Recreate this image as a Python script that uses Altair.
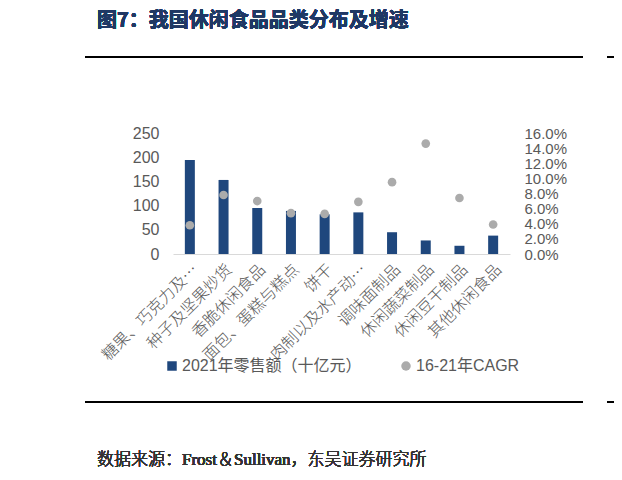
import altair as alt
import pandas as pd

# categories and values
categories = ["糖果、巧克力及…", "种子及坚果炒货", "香脆休闲食品", "面包、蛋糕与糕点", "饼干",
              "肉制以及水产动…", "调味面制品", "休闲蔬菜制品", "休闲豆干制品", "其他休闲食品"]
sales_2021 = [194, 153, 95, 89, 82, 86, 45, 28, 17, 38]
cagr_16_21 = [0.038, 0.078, 0.070, 0.054, 0.053, 0.069, 0.095, 0.146, 0.074, 0.039]

bar_name = "2021年零售额（十亿元）"
dot_name = "16-21年CAGR"

df = pd.DataFrame({"品类": categories, "零售额": sales_2021, "CAGR": cagr_16_21})

label_font = "Liberation Sans, Noto Sans CJK SC"
gray_txt = "#595959"


def legend_at(lx, symbol):
    return alt.Legend(
        title=None, orient="none", legendX=lx, legendY=225, direction="horizontal",
        labelFont=label_font, labelFontSize=16, labelColor=gray_txt,
        symbolType=symbol, symbolSize=90, symbolStrokeWidth=0, symbolOpacity=1,
        labelOffset=2, labelLimit=300,
    )


x = alt.X(
    "品类:N", sort=categories, title=None,
    scale=alt.Scale(type="band", paddingInner=0, paddingOuter=0),
    axis=alt.Axis(labelAngle=-45, labelFont="Noto Sans CJK SC", labelFontSize=16,
                  labelFontWeight=300, labelColor=gray_txt, ticks=False,
                  domainColor="#D9D9D9", labelPadding=7, labelLimit=250),
)

bars = (
    alt.Chart(df)
    .transform_calculate(series=f"'{bar_name}'")
    .mark_bar(size=10)
    .encode(
        x=x,
        y=alt.Y("零售额:Q", title=None, scale=alt.Scale(domain=[0, 250], nice=False),
                axis=alt.Axis(values=[0, 50, 100, 150, 200, 250], grid=False, domain=False,
                              ticks=False, labelFont=label_font, labelFontSize=16,
                              labelColor=gray_txt, labelPadding=14, labelOverlap=False)),
        color=alt.Color("series:N", scale=alt.Scale(domain=[bar_name], range=["#1F477D"]),
                        legend=legend_at(-9, "square")),
    )
)

dots = (
    alt.Chart(df)
    .transform_calculate(series=f"'{dot_name}'")
    .mark_circle(size=75, opacity=1)
    .encode(
        x=x,
        y=alt.Y("CAGR:Q", title=None, scale=alt.Scale(domain=[0, 0.16], nice=False),
                axis=alt.Axis(orient="right", values=[i * 0.02 for i in range(9)], format=".1%",
                              grid=False, domain=False, ticks=False, labelFont=label_font,
                              labelFontSize=15, labelColor=gray_txt, labelPadding=14,
                              labelOverlap=False, labelBound=False)),
        fill=alt.Fill("series:N", scale=alt.Scale(domain=[dot_name], range=["#ABABAB"]),
                      legend=legend_at(225, "circle")),
    )
)

# page decoration: title, rules and source note
title = alt.Chart(df).mark_text(
    text="图7：我国休闲食品品类分布及增速", align="left", baseline="middle",
    font="Noto Sans CJK SC", fontWeight="bold", fontSize=20, color="#1F3864",
).encode(x=alt.value(-76), y=alt.value(-112))

top_rule = alt.Chart(df).mark_rule(color="#000000", strokeWidth=2).encode(
    x=alt.value(-88), x2=alt.value(410), y=alt.value(-76))
top_rule2 = alt.Chart(df).mark_rule(color="#000000", strokeWidth=2).encode(
    x=alt.value(434), x2=alt.value(460), y=alt.value(-76))
bottom_rule = alt.Chart(df).mark_rule(color="#000000", strokeWidth=2).encode(
    x=alt.value(-88), x2=alt.value(410), y=alt.value(269))
bottom_rule2 = alt.Chart(df).mark_rule(color="#000000", strokeWidth=2).encode(
    x=alt.value(434), x2=alt.value(460), y=alt.value(269))

source = alt.Chart(df).mark_text(
    text="数据来源：Frost＆Sullivan，东吴证券研究所", align="left", baseline="middle",
    font="Liberation Serif, Noto Sans CJK SC", fontSize=17, fontWeight=300, color="#333333",
).encode(x=alt.value(-76), y=alt.value(327))

chart = (
    alt.layer(bars, dots, title, top_rule, top_rule2, bottom_rule, bottom_rule2, source)
    .resolve_scale(y="independent")
    .properties(
        width=337, height=121,
        autosize=alt.AutoSizeParams(type="none"),
        padding={"left": 165, "top": 125, "right": 104, "bottom": 214},
        background="white",
    )
    .configure_view(stroke=None)
)

chart.save("out.html", embed_options={"renderer": "svg", "actions": False})
